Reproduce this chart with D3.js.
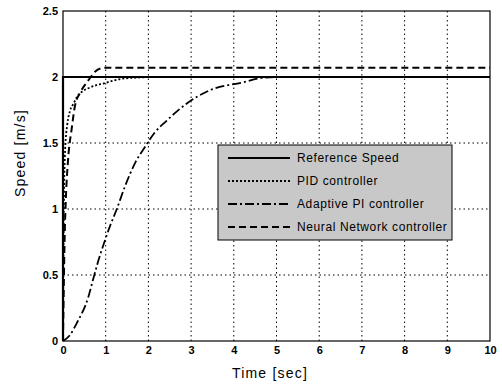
<!DOCTYPE html>
<html>
<head>
<meta charset="utf-8">
<script src="https://cdn.jsdelivr.net/npm/d3@7"></script>
<style>
  body { margin: 0; background: #fff; }
  text { font-family: "Liberation Sans", Arial, sans-serif; fill: #000; }
</style>
</head>
<body>
<div id="chart"></div>
<script>
// step responses
const refT = [0, 0, 10];
const refV = [0, 2, 2];

const pidT = [0, 0.01, 0.02, 0.05, 0.1, 0.16, 0.25, 0.33, 0.45, 0.63, 0.8, 0.94, 1.15, 1.35, 1.7, 2.2, 3, 10];
const pidV = [0, 0.6, 1.0, 1.45, 1.64, 1.74, 1.8, 1.85, 1.89, 1.92, 1.94, 1.95, 1.97, 1.985, 1.995, 2.0, 2.0, 2.0];

const piT = [0, 0.15, 0.33, 0.59, 0.7, 0.82, 0.98, 1.1, 1.26, 1.45, 1.69, 1.92, 2.15, 2.43, 2.9, 3.44, 4.22, 4.6, 5.1, 5.5, 10];
const piV = [0, 0.04, 0.14, 0.33, 0.46, 0.6, 0.76, 0.87, 1.0, 1.17, 1.35, 1.47, 1.58, 1.67, 1.8, 1.9, 1.96, 1.99, 2.0, 2.0, 2.0];

const nnT = [0, 0.02, 0.04, 0.07, 0.12, 0.2, 0.28, 0.4, 0.56, 0.65, 0.75, 0.88, 1.0, 10];
const nnV = [0, 0.45, 0.8, 1.1, 1.38, 1.6, 1.78, 1.88, 1.96, 2.0, 2.04, 2.065, 2.07, 2.07];

const xTicks = [0, 1, 2, 3, 4, 5, 6, 7, 8, 9, 10];
const yTicks = [0, 0.5, 1, 1.5, 2, 2.5];
const yTickLabels = ["0", "0.5", "1", "1.5", "2", "2.5"];

const seriesNames = ["Reference Speed", "PID controller", "Adaptive PI controller", "Neural Network controller"];

const W = 502, H = 385;
const plotL = 63, plotR = 490, plotT = 11, plotB = 341;

const svg = d3.select("#chart").append("svg")
  .attr("width", W)
  .attr("height", H);

const x = d3.scaleLinear().domain([0, 10]).range([plotL, plotR]);
const y = d3.scaleLinear().domain([0, 2.5]).range([plotB, plotT]);

/* grid */
const grid = svg.append("g").attr("class", "grid");
grid.selectAll(".vgrid")
  .data(xTicks.slice(1, -1)).enter()
  .append("line")
  .attr("x1", d => x(d)).attr("x2", d => x(d))
  .attr("y1", plotT).attr("y2", plotB)
  .attr("stroke", "#000").attr("stroke-width", 1)
  .attr("stroke-dasharray", "1.5,3");
grid.selectAll(".hgrid")
  .data(yTicks.slice(1, -1)).enter()
  .append("line")
  .attr("x1", plotL).attr("x2", plotR)
  .attr("y1", d => y(d)).attr("y2", d => y(d))
  .attr("stroke", "#000").attr("stroke-width", 1)
  .attr("stroke-dasharray", "1.5,3");

/* axes */
const xAxis = d3.axisBottom(x).tickValues(xTicks).tickSize(0).tickPadding(5);
const yAxis = d3.axisLeft(y).tickValues(yTicks).tickSize(0).tickPadding(5)
  .tickFormat((d, i) => yTickLabels[i]);

svg.append("g")
  .attr("transform", `translate(0,${plotB})`)
  .call(xAxis)
  .call(g => g.select(".domain").remove())
  .selectAll("text").style("font-size", "11px").style("font-weight", "bold");

svg.append("g")
  .attr("transform", `translate(${plotL},0)`)
  .call(yAxis)
  .call(g => g.select(".domain").remove())
  .selectAll("text").style("font-size", "11px").style("font-weight", "bold");

svg.append("rect")
  .attr("x", plotL).attr("y", plotT)
  .attr("width", plotR - plotL).attr("height", plotB - plotT)
  .attr("fill", "none").attr("stroke", "#000").attr("stroke-width", 1.2);

/* curves */
const styles = [
  { dash: null, width: 2.2 },
  { dash: "2,2", width: 1.8 },
  { dash: "9,3,2,3", width: 1.8 },
  { dash: "7,4", width: 2 }
];
const seriesData = [
  refT.map((t, i) => [t, refV[i]]),
  pidT.map((t, i) => [t, pidV[i]]),
  piT.map((t, i) => [t, piV[i]]),
  nnT.map((t, i) => [t, nnV[i]])
];

const line = d3.line()
  .x(d => x(d[0]))
  .y(d => y(d[1]))
  .curve(d3.curveMonotoneX);
const stepLine = d3.line()
  .x(d => x(d[0]))
  .y(d => y(d[1]));

const curves = svg.append("g").attr("class", "lines");
curves.selectAll("path")
  .data(seriesData).enter()
  .append("path")
  .attr("d", (d, i) => i === 0 ? stepLine(d) : line(d))
  .attr("fill", "none")
  .attr("stroke", "#000")
  .attr("stroke-width", (d, i) => styles[i].width)
  .attr("stroke-dasharray", (d, i) => styles[i].dash);

/* legend */
const lg = svg.append("g").attr("class", "legend");
lg.append("rect")
  .attr("x", 218).attr("y", 145)
  .attr("width", 234).attr("height", 95)
  .attr("fill", "#c8c8c8").attr("stroke", "#000").attr("stroke-width", 1);

const rowY = [158, 181, 204, 227];
const item = lg.selectAll(".item")
  .data(seriesNames).enter()
  .append("g")
  .attr("transform", (d, i) => `translate(0,${rowY[i]})`);
item.append("line")
  .attr("x1", 228).attr("x2", 290)
  .attr("y1", 0).attr("y2", 0)
  .attr("stroke", "#000")
  .attr("stroke-width", (d, i) => styles[i].width)
  .attr("stroke-dasharray", (d, i) => styles[i].dash);
item.append("text")
  .attr("x", 297).attr("y", 4)
  .style("font-size", "12px")
  .style("letter-spacing", "0.6px")
  .text(d => d);

/* axis labels */
svg.append("text")
  .attr("x", 270).attr("y", 378)
  .attr("text-anchor", "middle")
  .style("font-size", "14px")
  .style("letter-spacing", "1.2px")
  .text("Time  [sec]");

svg.append("text")
  .attr("transform", "translate(25,153) rotate(-90)")
  .attr("text-anchor", "middle")
  .style("font-size", "14px")
  .style("letter-spacing", "1.2px")
  .text("Speed  [m/s]");
</script>
</body>
</html>
